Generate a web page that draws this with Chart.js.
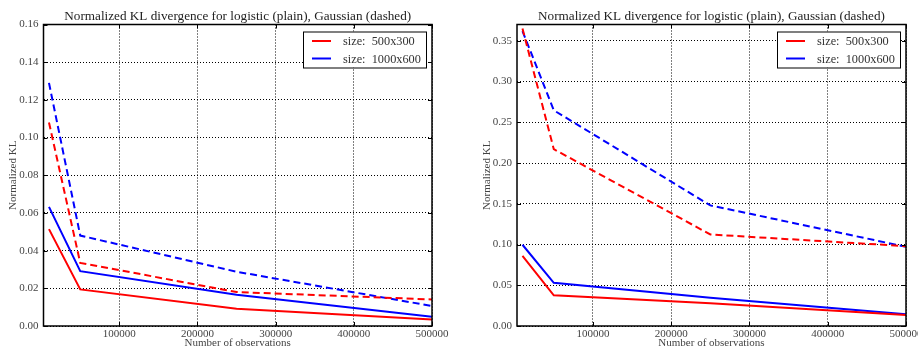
<!DOCTYPE html>
<html>
<head>
<meta charset="utf-8">
<script src="https://cdn.jsdelivr.net/npm/chart.js@4"></script>
<style>
  body { margin: 0; background: #fff; }
  .box { position: absolute; top: 0; width: 459px; height: 349px; }
</style>
</head>
<body>
<div class="box" style="left:0"><canvas id="left" width="459" height="349"></canvas></div>
<div class="box" style="left:459px"><canvas id="right" width="459" height="349"></canvas></div>
<script>
// x values (number of observations)
const observations = [10000, 50000, 250000, 500000];

// left panel
const leftRedPlain = [0.0514, 0.0194, 0.0092, 0.0035];
const leftBluePlain = [0.0632, 0.0291, 0.0166, 0.0049];
const leftRedDashed = [0.108, 0.0335, 0.018, 0.0141];
const leftBlueDashed = [0.129, 0.048, 0.0288, 0.0106];

// right panel
const rightRedPlain = [0.0862, 0.0376, 0.028, 0.0135];
const rightBluePlain = [0.0997, 0.053, 0.0347, 0.0143];
const rightRedDashed = [0.365, 0.217, 0.1123, 0.098];
const rightBlueDashed = [0.362, 0.2647, 0.148, 0.0972];

const xTicks = [100000, 200000, 300000, 400000, 500000];
const legendLabels = ['size:  500x300', 'size:  1000x600'];
const titleText = 'Normalized KL divergence for logistic (plain), Gaussian (dashed)';

const SERIF = '"Liberation Serif", "DejaVu Serif", serif';
const RED = '#ff0000';
const BLUE = '#0000ff';

function pts(ys) {
  return observations.map((x, i) => ({ x: x, y: ys[i] }));
}

// title centred over the plot area (matplotlib style)
const plotTitle = {
  id: 'plotTitle',
  afterDraw(chart) {
    const ctx = chart.ctx;
    const a = chart.chartArea;
    ctx.save();
    ctx.font = '13.2px ' + SERIF;
    ctx.fillStyle = '#222';
    ctx.textAlign = 'center';
    ctx.textBaseline = 'alphabetic';
    ctx.fillText(titleText, (a.left + a.right) / 2, 19.5);
    ctx.restore();
  }
};

// legend drawn inside the plot area, top right
const innerLegend = {
  id: 'innerLegend',
  afterDraw(chart) {
    const ctx = chart.ctx;
    const area = chart.chartArea;
    const w = 123, h = 36;
    const left = area.right - 6 - w;
    const top = area.top + 7;
    ctx.save();
    ctx.fillStyle = '#fff';
    ctx.fillRect(left, top, w, h);
    ctx.strokeStyle = '#000';
    ctx.lineWidth = 1;
    ctx.strokeRect(left + 0.5, top + 0.5, w, h);
    ctx.font = '12.3px ' + SERIF;
    ctx.textBaseline = 'middle';
    const colours = [RED, BLUE];
    legendLabels.forEach((lab, i) => {
      const y = top + 9.5 + i * 17.5;
      ctx.strokeStyle = colours[i];
      ctx.lineWidth = 2;
      ctx.beginPath();
      ctx.moveTo(left + 9, y);
      ctx.lineTo(left + 28, y);
      ctx.stroke();
      ctx.fillStyle = '#333';
      ctx.fillText(lab, left + 40, y + 1);
    });
    ctx.restore();
  }
};

// black frame around the plot area plus inward tick marks on all four sides
const frame = {
  id: 'frame',
  afterDatasetsDraw(chart) {
    const ctx = chart.ctx;
    const a = chart.chartArea;
    const xs = chart.scales.x, ys = chart.scales.y;
    ctx.save();
    ctx.strokeStyle = '#000';
    ctx.lineWidth = 1;
    ctx.beginPath();
    xs.ticks.forEach(t => {
      const px = Math.round(xs.getPixelForValue(t.value)) + 0.5;
      ctx.moveTo(px, a.bottom); ctx.lineTo(px, a.bottom - 4);
      ctx.moveTo(px, a.top); ctx.lineTo(px, a.top + 4);
    });
    ys.ticks.forEach(t => {
      const py = Math.round(ys.getPixelForValue(t.value)) + 0.5;
      ctx.moveTo(a.left, py); ctx.lineTo(a.left + 4, py);
      ctx.moveTo(a.right, py); ctx.lineTo(a.right - 4, py);
    });
    ctx.stroke();
    ctx.lineWidth = 1.5;
    ctx.strokeRect(a.left, a.top, a.right - a.left, a.bottom - a.top);
    ctx.restore();
  }
};

function makeChart(id, sets, yMax, yStep, yWidth, padRight, yTitlePad) {
  const ds = [
    { data: pts(sets[0]), borderColor: RED },
    { data: pts(sets[1]), borderColor: BLUE },
    { data: pts(sets[2]), borderColor: RED, borderDash: [7, 4] },
    { data: pts(sets[3]), borderColor: BLUE, borderDash: [7, 4] }
  ].map(d => Object.assign({ borderWidth: 2, pointRadius: 0, fill: false, tension: 0 }, d));

  return new Chart(document.getElementById(id), {
    type: 'line',
    data: { datasets: ds },
    options: {
      responsive: false,
      animation: false,
      layout: { padding: { left: 0, right: padRight, top: 24.5, bottom: 0 } },
      plugins: {
        legend: { display: false },
        tooltip: { enabled: false },
        title: { display: false }
      },
      scales: {
        x: {
          type: 'linear',
          min: 3000,
          max: 500000,
          afterBuildTicks: s => { s.ticks = xTicks.map(v => ({ value: v })); },
          afterFit: s => {
            s.height = 23;
            // let the last tick label run off the edge instead of shrinking the plot
            s.paddingLeft = 0;
            s.paddingRight = 0;
          },
          ticks: {
            color: '#444',
            padding: 1.5,
            maxRotation: 0,
            autoSkip: false,
            font: { family: SERIF, size: 11 },
            callback: v => String(v)
          },
          grid: { color: '#000', lineWidth: 1, drawTicks: false },
          border: { display: false, dash: [1, 2] },
          title: {
            display: true,
            text: 'Number of observations',
            color: '#444',
            font: { family: SERIF, size: 11, lineHeight: 1 },
            padding: { top: 0, bottom: 0 }
          }
        },
        y: {
          min: 0,
          max: yMax,
          afterBuildTicks: s => {
            const t = [];
            for (let v = 0; v <= yMax + 1e-9; v += yStep) t.push({ value: Math.round(v * 1000) / 1000 });
            s.ticks = t;
          },
          afterFit: s => { s.width = yWidth; s.paddingTop = 0; s.paddingBottom = 0; },
          ticks: {
            color: '#444',
            padding: 5,
            font: { family: SERIF, size: 11 },
            callback: v => Number(v).toFixed(2)
          },
          grid: { color: '#000', lineWidth: 1, drawTicks: false },
          border: { display: false, dash: [1, 2] },
          title: {
            display: true,
            text: 'Normalized KL',
            color: '#444',
            font: { family: SERIF, size: 11, lineHeight: 1.2 },
            padding: { top: yTitlePad, bottom: 0 }
          }
        }
      }
    },
    plugins: [frame, innerLegend, plotTitle]
  });
}

makeChart('left',
  [leftRedPlain, leftBluePlain, leftRedDashed, leftBlueDashed],
  0.16, 0.02, 43.5, 27, 6.5);

makeChart('right',
  [rightRedPlain, rightBluePlain, rightRedDashed, rightBlueDashed],
  0.37, 0.05, 58, 12, 21.5);
</script>
</body>
</html>
